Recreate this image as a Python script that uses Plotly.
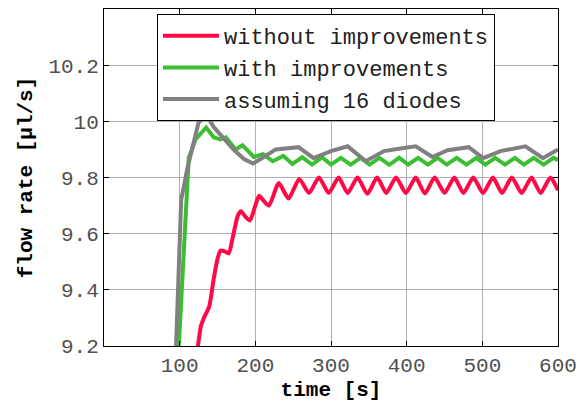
import plotly.graph_objects as go

# ---- data ----
red_t = [114, 124, 128, 132, 139, 145, 150, 154, 161, 165, 170, 177, 181, 187, 193, 200, 205, 211, 218,
         231, 244, 258, 271, 284, 297, 310, 322, 335, 348, 361, 373, 386, 399, 412, 424, 437, 450, 463,
         475, 488, 501, 514, 526, 539, 552, 565, 577, 590, 600]
red_v = [9.10, 9.20, 9.27, 9.30, 9.34, 9.44, 9.51, 9.54, 9.535, 9.53, 9.585, 9.665, 9.68, 9.66, 9.647,
         9.70, 9.735, 9.717, 9.70, 9.78, 9.725, 9.795, 9.745, 9.80, 9.745, 9.80, 9.745, 9.80, 9.742,
         9.80, 9.745, 9.80, 9.745, 9.80, 9.743, 9.80, 9.745, 9.80, 9.745, 9.80, 9.745, 9.80, 9.745,
         9.80, 9.745, 9.80, 9.745, 9.80, 9.755]

green_t = [95, 99, 109.5, 112, 121, 132, 135, 145, 154, 161, 174, 183, 198, 210, 223, 237, 249, 262,
           275, 288, 300, 313, 326, 339, 351, 364, 377, 390, 402, 415, 428, 441, 453, 466, 479, 492,
           504, 517, 530, 543, 555, 568, 581, 594, 600]
green_v = [9.0, 9.2, 9.76, 9.87, 9.936, 9.97, 9.978, 9.943, 9.936, 9.943, 9.90, 9.915, 9.873, 9.883,
           9.858, 9.877, 9.848, 9.872, 9.846, 9.872, 9.846, 9.870, 9.846, 9.870, 9.846, 9.870, 9.845,
           9.870, 9.846, 9.870, 9.846, 9.870, 9.846, 9.870, 9.846, 9.870, 9.846, 9.870, 9.846, 9.870,
           9.846, 9.870, 9.846, 9.870, 9.862]

gray_t = [92.5, 95, 102, 110, 119, 125, 131, 139, 145, 158, 171, 185, 197, 207, 227, 257, 277, 300,
          322, 346, 370, 394, 412, 434, 454, 482, 501, 524, 557, 580, 600]
gray_v = [8.99, 9.2, 9.72, 9.83, 9.936, 9.996, 10.01, 10.006, 9.98, 9.94, 9.90, 9.866, 9.85, 9.866,
          9.90, 9.908, 9.869, 9.894, 9.911, 9.858, 9.894, 9.904, 9.911, 9.873, 9.897, 9.908, 9.869,
          9.894, 9.911, 9.869, 9.90]

names = ["without improvements", "with improvements", "assuming 16 diodes"]
x_ticks = [100, 200, 300, 400, 500, 600]
y_ticks = [9.2, 9.4, 9.6, 9.8, 10.0, 10.2]
y_ticktext = ["9.2", "9.4", "9.6", "9.8", "10", "10.2"]

FONT = "Liberation Mono, Courier New, monospace"

fig = go.Figure()
fig.add_trace(go.Scatter(x=red_t, y=red_v, mode="lines", name=names[0],
                         line=dict(color="#ff0a46", width=4, shape="spline", smoothing=0.6)))
fig.add_trace(go.Scatter(x=green_t, y=green_v, mode="lines", name=names[1],
                         line=dict(color="#3cbe32", width=4)))
fig.add_trace(go.Scatter(x=gray_t, y=gray_v, mode="lines", name=names[2],
                         line=dict(color="#808080", width=4)))

axis_common = dict(showline=True, linecolor="black", linewidth=1, mirror="ticks",
                   ticks="inside", ticklen=5, tickcolor="black", showgrid=True,
                   gridcolor="#b0b0b0", gridwidth=1, zeroline=False,
                   tickfont=dict(family=FONT, size=21, color="#505050"))

fig.update_layout(
    width=587, height=405,
    margin=dict(l=104, r=29, t=8, b=56),
    paper_bgcolor="white", plot_bgcolor="white",
    xaxis=dict(range=[0, 600], tickvals=x_ticks,
               title=dict(text="time [s]", standoff=4,
                          font=dict(family=FONT, size=21, color="black", weight="bold")),
               **axis_common),
    yaxis=dict(range=[9.2, 10.4], tickvals=y_ticks, ticktext=y_ticktext,
               title=dict(text="flow rate [µl/s]", standoff=10,
                          font=dict(family=FONT, size=21, color="black", weight="bold")),
               **axis_common),
    legend=dict(x=0.1167, y=0.985, xanchor="left", yanchor="top",
                bgcolor="white", bordercolor="black", borderwidth=1,
                font=dict(family=FONT, size=22, color="#222222"),
                itemwidth=56),
    showlegend=True,
)

fig.write_html("out.html")
